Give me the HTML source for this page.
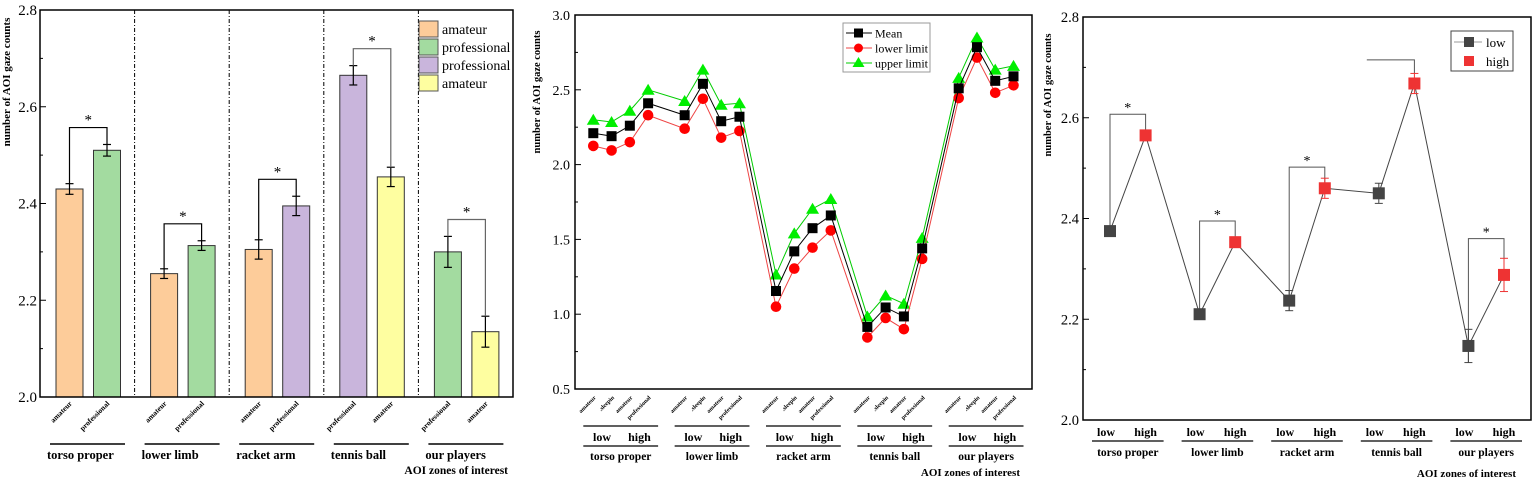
<!DOCTYPE html>
<html><head><meta charset="utf-8">
<style>
html,body{margin:0;padding:0;background:#fff;}
svg{display:block;font-family:"Liberation Serif",serif;}
</style></head>
<body>
<svg id="s" width="1535" height="484" xmlns="http://www.w3.org/2000/svg"></svg>
<script>
// ---------- Panel 1 data ----------
const p1Groups = ["torso proper","lower limb","racket arm","tennis ball","our players"];
const p1Labels = [["amateur","professional"],["amateur","professional"],["amateur","professional"],["professional","amateur"],["professional","amateur"]];
const p1Values = [[2.43,2.51],[2.255,2.313],[2.305,2.395],[2.665,2.455],[2.30,2.135]];
const p1Errors = [[0.011,0.012],[0.01,0.01],[0.02,0.02],[0.02,0.02],[0.032,0.032]];
const p1Colors = [["#fdcc9a","#a3dba0"],["#fdcc9a","#a3dba0"],["#fdcc9a","#c9b5dc"],["#c9b5dc","#fefea0"],["#a3dba0","#fefea0"]];
const p1Ticks = [2.0,2.2,2.4,2.6,2.8];
const p1Legend = [["amateur","#fdcc9a"],["professional","#a3dba0"],["professional","#c9b5dc"],["amateur","#fefea0"]];
// ---------- Panel 2 data ----------
const p2Groups = ["torso proper","lower limb","racket arm","tennis ball","our players"];
const p2Sub = ["amateur",".sleepin","amateur","professional"];
const p2Mean = [2.21,2.19,2.26,2.41, 2.33,2.54,2.29,2.32, 1.155,1.42,1.575,1.66, 0.915,1.045,0.985,1.44, 2.51,2.785,2.56,2.59];
const p2Lower = [2.125,2.095,2.15,2.33, 2.24,2.44,2.18,2.225, 1.05,1.305,1.445,1.56, 0.845,0.975,0.9,1.37, 2.445,2.715,2.48,2.53];
const p2Upper = [2.30,2.285,2.36,2.5, 2.425,2.635,2.4,2.41, 1.265,1.54,1.705,1.77, 0.985,1.125,1.07,1.51, 2.58,2.85,2.635,2.66];
const p2Ticks = [0.5,1.0,1.5,2.0,2.5,3.0];
// ---------- Panel 3 data ----------
const p3Groups = ["torso proper","lower limb","racket arm","tennis ball","our players"];
const p3Low = [2.375,2.21,2.237,2.45,2.147];
const p3High = [2.565,2.353,2.46,2.668,2.288];
const p3LowErr = [0.008,0.007,0.02,0.02,0.033];
const p3HighErr = [0.008,0.008,0.02,0.02,0.033];
const p3Ticks = [2.0,2.2,2.4,2.6,2.8];

const S = document.getElementById('s');
const NS = "http://www.w3.org/2000/svg";
function el(tag, attrs, text){const e=document.createElementNS(NS,tag);for(const k in attrs)e.setAttribute(k,attrs[k]);if(text!==undefined)e.textContent=text;S.appendChild(e);return e;}
function line(x1,y1,x2,y2,st,w,da){return el('line',{x1,y1,x2,y2,stroke:st||'#000','stroke-width':w||1,'stroke-dasharray':da||'none'});}

// ===== Panel 1 =====
const y1 = v => 397 - (v-2.0)*(387/0.8);
for(let g=0;g<5;g++){
  const gx = 40 + g*94.6;
  for(let i=0;i<2;i++){
    const x = gx + 16 + i*37.5, w=27, v=p1Values[g][i], e=p1Errors[g][i];
    const r = el('rect',{x:x,y:y1(v),width:w,height:397-y1(v),fill:p1Colors[g][i],stroke:'#333','stroke-width':1});
    
    
    const cx=x+w/2;
    line(cx,y1(v+e),cx,y1(v-e),'#000',1.2);line(cx-4,y1(v+e),cx+4,y1(v+e),'#000',1.2);line(cx-4,y1(v-e),cx+4,y1(v-e),'#000',1.2);
    const t=el('text',{x:cx+3,y:404,'font-size':7.5,'font-weight':'bold','text-anchor':'end',transform:`rotate(-45 ${cx+3} 404)`},p1Labels[g][i]);
    
  }
  const xa=gx+16+13.5, xb=gx+53.5+13.5;
  const top=Math.max(p1Values[g][0]+p1Errors[g][0],p1Values[g][1]+p1Errors[g][1])+0.035;
  const pl=el('polyline',{points:`${xa},${y1(p1Values[g][0]+p1Errors[g][0])} ${xa},${y1(top)} ${xb},${y1(top)} ${xb},${y1(p1Values[g][1]+p1Errors[g][1])}`,fill:'none',stroke:g>=3?'#666':'#000','stroke-width':1.2});
  
  el('text',{x:(xa+xb)/2,y:y1(top)-3,'font-size':15,'text-anchor':'middle'},'*');
  if(g>0) line(gx,10,gx,397,'#000',1,'4,2,1,2');
  line(gx+10,444,gx+85,444,'#000',1.5);
  const gl=el('text',{x:gx+7,y:459,'font-size':12.5,'font-weight':'bold'},p1Groups[g]);
  
}
el('rect',{x:40,y:10,width:473,height:387,fill:'none',stroke:'#000','stroke-width':1.5});
for(let v=2.0;v<=2.801;v+=0.1){const y=y1(v);const maj=Math.round(v*10)%2===0;line(40,y,maj?46:43,y,'#000',1);}
p1Ticks.forEach(v=>{const t=el('text',{x:37,y:y1(v)+5,'font-size':15,'text-anchor':'end'},v.toFixed(1));});
{const t=el('text',{x:10,y:82,'font-size':11,'font-weight':'bold','text-anchor':'middle',transform:'rotate(-90 10 82)'},'number of AOI gaze counts');}
{const t=el('text',{x:508,y:474,'font-size':11.5,'font-weight':'bold','text-anchor':'end'},'AOI zones of interest');}
p1Legend.forEach((L,i)=>{const y=21+i*18;el('rect',{x:419,y:y,width:19,height:16,fill:L[1],stroke:'#555','stroke-width':1});const t=el('text',{x:442,y:y+13,'font-size':14},L[0]);});

// ===== Panel 2 =====
const y2 = v => 389 - (v-0.5)*(374/2.5);
const x2 = i => 593.3 + (i + Math.floor(i/4))*18.27;
el('rect',{x:575,y:15,width:457,height:374,fill:'none',stroke:'#000','stroke-width':1.5});
for(let v=0.5;v<=3.001;v+=0.25){const y=y2(v);const maj=Math.abs(v*2-Math.round(v*2))<0.01;line(575,y,maj?581:578,y);}
p2Ticks.forEach(v=>{const t=el('text',{x:570,y:y2(v)+5,'font-size':14,'text-anchor':'end'},v.toFixed(1));});
{const t=el('text',{x:540,y:92,'font-size':10.5,'font-weight':'bold','text-anchor':'middle',transform:'rotate(-90 540 92)'},'number of AOI gaze counts');}
function series(vals,color,kind,name){
  const pts=vals.map((v,i)=>`${x2(i)},${y2(v)}`).join(' ');
  const p=el('polyline',{points:pts,fill:'none',stroke:color,'stroke-width':1});
  
  vals.forEach((v,i)=>{const x=x2(i),y=y2(v);let m;
    if(kind==='sq')m=el('rect',{x:x-5,y:y-5,width:10,height:10,fill:'#000'});
    else if(kind==='ci')m=el('circle',{cx:x,cy:y,r:5.3,fill:'#f00'});
    else m=el('polygon',{points:`${x},${y-6} ${x+6.5},${y+5} ${x-6.5},${y+5}`,fill:'#0e0'});
    });
}
series(p2Upper,'#0c0','tr','upper-limit');
series(p2Lower,'#e44','ci','lower-limit');
series(p2Mean,'#000','sq','mean');
for(let g=0;g<5;g++){
  for(let j=0;j<4;j++){const x=x2(g*4+j)+3;el('text',{x:x,y:398,'font-size':6,'font-weight':'bold','text-anchor':'end',transform:`rotate(-45 ${x} 398)`},p2Sub[j]);}
  const xa=x2(g*4)-10, xb=x2(g*4+3)+10;
  line(xa,426,xb,426,'#000',1.3);line(xa,446,xb,446,'#000',1.3);
  el('text',{x:(xa*0.75+xb*0.25),y:441,'font-size':12,'font-weight':'bold','text-anchor':'middle'},'low');
  el('text',{x:(xa*0.25+xb*0.75),y:441,'font-size':12,'font-weight':'bold','text-anchor':'middle'},'high');
  const gl=el('text',{x:(xa+xb)/2,y:460,'font-size':11.5,'font-weight':'bold','text-anchor':'middle'},p2Groups[g]);
  
}
{const t=el('text',{x:1020,y:476,'font-size':11,'font-weight':'bold','text-anchor':'end'},'AOI zones of interest');}
el('rect',{x:843,y:23,width:87,height:49,fill:'#fff',stroke:'#999','stroke-width':1});
[['Mean','#000','sq'],['lower limit','#e44','ci'],['upper limit','#0c0','tr']].forEach((L,i)=>{const y=33+i*15;line(846,y,872,y,L[1],1);
  if(L[2]==='sq')el('rect',{x:854,y:y-4.5,width:9,height:9,fill:'#000'});else if(L[2]==='ci')el('circle',{cx:858.5,cy:y,r:4.5,fill:'#f00'});else el('polygon',{points:`858.5,${y-6} 864.5,${y+4} 852.5,${y+4}`,fill:'#0e0'});
  const t=el('text',{x:875,y:y+4.5,'font-size':12},L[0]);});

// ===== Panel 3 =====
const y3 = v => 420 - (v-2.0)*(403/0.8);
const x3 = (g,h) => 1110 + g*89.6 + h*35.6;
el('rect',{x:1083,y:17,width:448,height:403,fill:'none',stroke:'#000','stroke-width':1.5});
for(let v=2.0;v<=2.801;v+=0.1){const y=y3(v);const maj=Math.round(v*10)%2===0;line(1083,y,maj?1089:1086,y);}
p3Ticks.forEach(v=>{const t=el('text',{x:1079,y:y3(v)+5,'font-size':14.5,'text-anchor':'end'},v.toFixed(1));});
{const t=el('text',{x:1051,y:95,'font-size':10.5,'font-weight':'bold','text-anchor':'middle',transform:'rotate(-90 1051 95)'},'number of AOI gaze counts');}
for(let g=0;g<5;g++){
  const xa=x3(g,0), xb=x3(g,1);
  if(g===3){const top=p3High[g]+0.047;el('polyline',{points:`${xa-12},${y3(top)} ${xb},${y3(top)} ${xb},${y3(p3High[g]+p3HighErr[g])}`,fill:'none',stroke:'#555','stroke-width':1});continue;}
  const top=Math.max(p3Low[g],p3High[g])+0.042+(g===4?0.03:0);
  const b=el('polyline',{points:`${xa},${y3(p3Low[g]-p3LowErr[g])} ${xa},${y3(top)} ${xb},${y3(top)} ${xb},${y3(p3High[g])}`,fill:'none',stroke:'#555','stroke-width':1});
  
  el('text',{x:(xa+xb)/2,y:y3(top)-2,'font-size':14,'text-anchor':'middle'},'*');
}
{const pts=[];for(let g=0;g<5;g++){pts.push(`${x3(g,0)},${y3(p3Low[g])}`);pts.push(`${x3(g,1)},${y3(p3High[g])}`);}
 const l=el('polyline',{points:pts.join(' '),fill:'none',stroke:'#444','stroke-width':1});}
for(let g=0;g<5;g++){
  [[p3Low,p3LowErr,'#444',0,'low'],[p3High,p3HighErr,'#e33',1,'high']].forEach(([V,E,c,h,n])=>{
    const x=x3(g,h),v=V[g],e=E[g];
    line(x,y3(v+e),x,y3(v-e),c,1);line(x-4,y3(v+e),x+4,y3(v+e),c,1);line(x-4,y3(v-e),x+4,y3(v-e),c,1);
    const m=el('rect',{x:x-6,y:y3(v)-6,width:12,height:12,fill:c});
    
  });
  const xa=x3(g,0)-18, xb=x3(g,1)+18;
  line(xa,441,xb,441,'#000',1.3);
  el('text',{x:x3(g,0)-4,y:436,'font-size':12,'font-weight':'bold','text-anchor':'middle'},'low');
  el('text',{x:x3(g,1)+0,y:436,'font-size':12,'font-weight':'bold','text-anchor':'middle'},'high');
  const gl=el('text',{x:(xa+xb)/2,y:456,'font-size':11.5,'font-weight':'bold','text-anchor':'middle'},p3Groups[g]);
  
}
{const t=el('text',{x:1516,y:477,'font-size':11,'font-weight':'bold','text-anchor':'end'},'AOI zones of interest');}
el('rect',{x:1451,y:31,width:62,height:40,fill:'#fff',stroke:'#444','stroke-width':1});
line(1454,42,1482,42,'#999',1);el('rect',{x:1464,y:37,width:10,height:10,fill:'#444'});
{const t=el('text',{x:1486,y:47,'font-size':13},'low');}
el('rect',{x:1464,y:56,width:10,height:10,fill:'#e33'});
{const t=el('text',{x:1486,y:66,'font-size':13},'high');}
</script>
</body></html>
